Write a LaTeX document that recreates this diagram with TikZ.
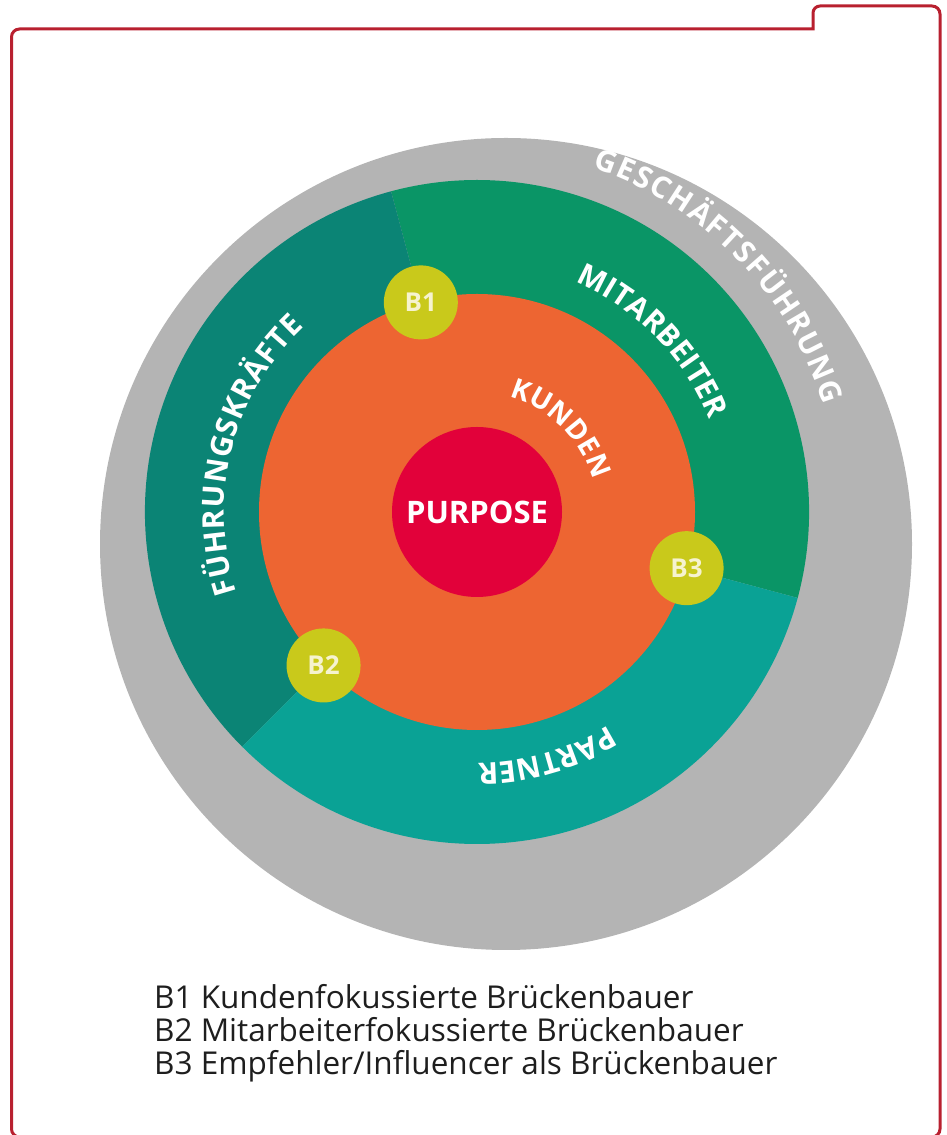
\documentclass[tikz,border=0pt]{standalone}
\usepackage{fontspec}
\setmainfont{Open Sans}
\usetikzlibrary{decorations.text,calc}

\definecolor{framered}{HTML}{B8202F}
\definecolor{ringgray}{HTML}{B4B4B4}
\definecolor{fkteal}{HTML}{0B8475}
\definecolor{mgreen}{HTML}{0A9566}
\definecolor{ptteal}{HTML}{0AA295}
\definecolor{kunorange}{HTML}{ED6532}
\definecolor{purred}{HTML}{E2013A}
\definecolor{bridgefill}{HTML}{C9C91B}
\definecolor{bridgetext}{HTML}{F6F3CF}
\definecolor{legendtext}{HTML}{1E1E1E}

\newcommand\lblfont{\bfseries\fontsize{30}{30}\selectfont\color{white}}
\newcommand\kunfont{\bfseries\fontsize{28}{28}\selectfont\color{white}}

\begin{document}
\begin{tikzpicture}[x=1pt,y=1pt,
  frameline/.style={draw=framered, line width=3pt},
  bridge/.style={circle, fill=bridgefill, minimum size=74pt, inner sep=0pt,
    text=bridgetext, font=\bfseries\fontsize{26}{26}\selectfont},
  legendline/.style={anchor=base west, inner sep=0pt, text=legendtext,
    font=\fontsize{31.5}{31.5}\selectfont}
]
\useasboundingbox (0,0) rectangle (946,1135);

% frame with tab at the top right
\draw[frameline] (11.5,6) -- (11.5,1098) arc[start angle=180,end angle=90,radius=8]
  -- (813,1106) -- (813,1122) arc[start angle=180,end angle=90,radius=7]
  -- (932,1129) arc[start angle=90,end angle=0,radius=8]
  -- (940,6) arc[start angle=0,end angle=-90,radius=8]
  -- (19.5,-2) arc[start angle=270,end angle=180,radius=8] -- cycle;

\coordinate (C) at (477,623);
\coordinate (G) at (506,591);

% outer ring: Geschaeftsfuehrung
\fill[ringgray] (G) circle[radius=406];

% middle ring: three sectors
\fill[mgreen] (C) -- ($(C)+(-15:332)$) arc[start angle=-15,end angle=105,radius=332] -- cycle;
\fill[fkteal] (C) -- ($(C)+(105:332)$) arc[start angle=105,end angle=225,radius=332] -- cycle;
\fill[ptteal] (C) -- ($(C)+(225:332)$) arc[start angle=225,end angle=345,radius=332] -- cycle;

% customers and purpose
\node[circle, fill=kunorange, minimum size=436pt, inner sep=0pt] (kunden) at (C) {};
\node[circle, fill=purred, minimum size=170pt, inner sep=0pt, text=white,
  font=\bfseries\fontsize{31}{31}\selectfont] (purpose) at (C) {PURPOSE};

% curved labels
\path[decorate, decoration={text along path, text align={fit to path},
  text={|\lblfont|GESCHÄFTSFÜHRUNG}}]
  ($(C)+(71.5:363)$) arc[start angle=71.5,end angle=17.2,radius=363];
\path[decorate, decoration={text along path, text align={fit to path},
  text={|\lblfont|MITARBEITER}}]
  ($(C)+(66.8:250)$) arc[start angle=66.8,end angle=22.5,radius=250];
\path[decorate, decoration={text along path, text align={fit to path},
  text={|\lblfont|FÜHRUNGSKRÄFTE}}]
  ($(C)+(198.5:253)$) arc[start angle=198.5,end angle=133,radius=253];
\path[decorate, decoration={text along path, text align={fit to path},
  text={|\lblfont|PARTNER}}]
  ($(C)+(-58.3:251)$) arc[start angle=-58.3,end angle=-89.6,radius=251];
\path[decorate, decoration={text along path, text align={fit to path},
  text={|\kunfont|KUNDEN}}]
  ($(C)+(74.5:120)$) arc[start angle=74.5,end angle=15.5,radius=120];

% bridge builders
\node[bridge] (b1) at ($(C)+(105:217)$) {B1};
\node[bridge] (b2) at ($(C)+(225:217)$) {B2};
\node[bridge] (b3) at ($(C)+(-15:217)$) {B3};

% legend
\node[legendline] (leg1) at (154,126) {B1 Kundenfokussierte Brückenbauer};
\node[legendline] (leg2) at (154,93) {B2 Mitarbeiterfokussierte Brückenbauer};
\node[legendline] (leg3) at (154,60) {B3 Empfehler/Influencer als Brückenbauer};
\end{tikzpicture}
\end{document}
